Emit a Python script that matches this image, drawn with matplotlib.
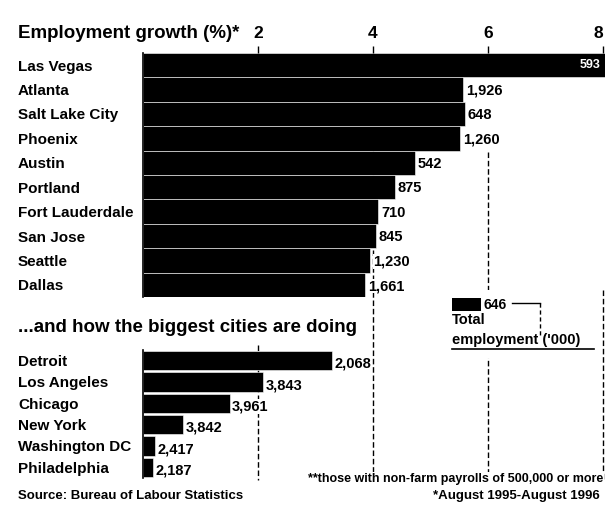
import matplotlib.pyplot as plt
from matplotlib.patches import Rectangle

plt.rcParams['font.family'] = ['Liberation Sans', 'DejaVu Sans']
plt.rcParams['font.weight'] = 'bold'

# fastest growing cities, employment growth (%) and total employment ('000)
top_cities = ['Las Vegas', 'Atlanta', 'Salt Lake City', 'Phoenix', 'Austin',
              'Portland', 'Fort Lauderdale', 'San Jose', 'Seattle', 'Dallas']
top_growth = [8.4, 5.57, 5.6, 5.51, 4.73, 4.38, 4.09, 4.05, 3.95, 3.86]
top_jobs = ['593', '1,926', '648', '1,260', '542', '875', '710', '845', '1,230', '1,661']

# biggest cities
big_cities = ['Detroit', 'Los Angeles', 'Chicago', 'New York', 'Washington DC', 'Philadelphia']
big_growth = [3.29, 2.09, 1.51, 0.70, 0.21, 0.17]
big_jobs = ['2,068', '3,843', '3,961', '3,842', '2,417', '2,187']

ticks = [2, 4, 6, 8]

W, H = 605, 513
fig = plt.figure(figsize=(W / 100, H / 100), dpi=100)

def box(x0, y0, x1, y1):
    # pixel box (top-left origin) -> figure fraction rect
    return [x0 / W, 1 - y1 / H, (x1 - x0) / W, (y1 - y0) / H]

xmax = (W - 143) / 57.5

# background axes only for the dashed gridlines (y in pixels, top-down)
ax_bg = fig.add_axes(box(143, 0, W, H))
ax_bg.set_xlim(0, xmax)
ax_bg.set_ylim(H, 0)
grid_top = [345, 150, 152, 290]   # where each gridline starts (px)
ax_bg.vlines(ticks, grid_top, 480, color='black', lw=1.0, linestyles=[(0, (4, 2))])
ax_bg.axis('off')

ax_top = fig.add_axes(box(143, 53, W, 297))
ax_bot = fig.add_axes(box(143, 350, W, 478))

for ax in (ax_top, ax_bot):
    ax.set_facecolor('none')
    ax.set_xlim(0, xmax)
    for s in ['top', 'right', 'bottom']:
        ax.spines[s].set_visible(False)
    ax.spines['left'].set_linewidth(1.2)

# top chart
ax_top.barh(range(len(top_cities)), top_growth, height=1.0, color='black',
            edgecolor='white', linewidth=0.4)
ax_top.set_ylim(len(top_cities) - 0.5, -0.5)
ax_top.set_yticks(range(len(top_cities)))
ax_top.set_yticklabels(top_cities, fontsize=11)
ax_top.xaxis.tick_top()
ax_top.set_xticks(ticks)
ax_top.set_xticklabels([str(t) for t in ticks], fontsize=12.5)
ax_top.get_xticklabels()[-1].set_ha('right')
ax_top.tick_params(axis='x', length=5, width=1, pad=4)
for i, (v, lab) in enumerate(zip(top_growth, top_jobs)):
    if v > xmax:
        ax_top.text(xmax - 0.07, i, lab, color='white', ha='right', va='center', fontsize=9)
    else:
        ax_top.text(v + 0.05, i + 0.05, lab, ha='left', va='center', fontsize=10.5,
                    bbox=dict(facecolor='white', edgecolor='none', pad=0.3))

# bottom chart
ax_bot.barh(range(len(big_cities)), big_growth, height=0.92, color='black',
            edgecolor='white', linewidth=0.4)
ax_bot.set_ylim(len(big_cities) - 0.5, -0.5)
ax_bot.set_yticks(range(len(big_cities)))
ax_bot.set_yticklabels(big_cities, fontsize=11)
ax_bot.set_xticks([])
for i, (v, lab) in enumerate(zip(big_growth, big_jobs)):
    ax_bot.text(v + 0.04, i + 0.15, lab, ha='left', va='center', fontsize=10.5,
                bbox=dict(facecolor='white', edgecolor='none', pad=0.3))

for ax in (ax_top, ax_bot):
    ax.tick_params(axis='y', length=0, pad=90)
    for lab in ax.get_yticklabels():
        lab.set_ha('left')

# texts and legend drawn in pixel space
ov = fig.add_axes([0, 0, 1, 1])
ov.set_xlim(0, W)
ov.set_ylim(H, 0)
ov.axis('off')

ov.text(18, 33, 'Employment growth (%)*', fontsize=13.5, va='center', ha='left')
ov.text(18, 328, '...and how the biggest cities are doing', fontsize=13.5, va='center', ha='left',
        bbox=dict(facecolor='white', edgecolor='none', pad=1))

# legend key
ov.add_patch(Rectangle((448, 290), 148, 68, facecolor='white', edgecolor='none'))
ov.add_patch(Rectangle((452, 298), 29, 13, facecolor='black'))
ov.text(484, 305, '646', fontsize=10, va='center', ha='left')
ov.plot([512, 540], [303, 303], color='black', lw=1)
ov.plot([540, 540], [303, 335], color='black', lw=1, ls=(0, (3, 2)))
ov.text(452, 320, 'Total', fontsize=10.5, va='center', ha='left')
ov.text(452, 340, "employment ('000)", fontsize=10.5, va='center', ha='left')
ov.plot([452, 594], [349, 349], color='black', lw=1.2)

ov.text(603, 479, '**those with non-farm payrolls of 500,000 or more', fontsize=9,
        ha='right', va='center', bbox=dict(facecolor='white', edgecolor='none', pad=0.5))
ov.text(600, 496, '*August 1995-August 1996', fontsize=9.5, ha='right', va='center')
ov.text(18, 496, 'Source: Bureau of Labour Statistics', fontsize=9.5, ha='left', va='center')

fig.savefig('out.png', dpi=100)
